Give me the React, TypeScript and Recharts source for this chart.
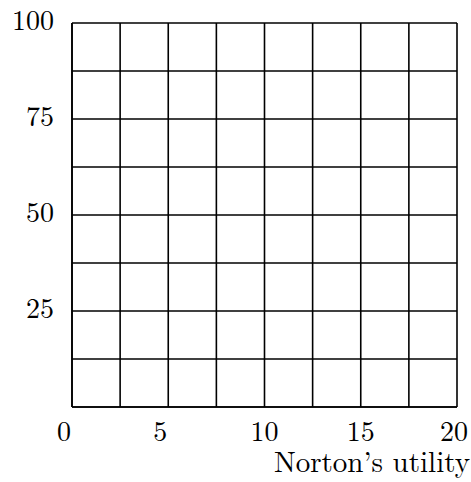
import React from 'react';
import { ScatterChart, Scatter, XAxis, YAxis, CartesianGrid } from 'recharts';

const xTicks = [0, 2.5, 5, 7.5, 10, 12.5, 15, 17.5, 20];
const xLabels = [0, 5, 10, 15, 20];
const yTicks = [0, 12.5, 25, 37.5, 50, 62.5, 75, 87.5, 100];
const yLabels = [25, 50, 75, 100];
// the reference chart is an empty grid: one anchor point at the origin, drawn invisibly
const anchor = [{ x: 0, y: 0 }];

const FONT = "'Latin Modern Roman', 'CMU Serif', 'Liberation Serif', serif";
const FS = 28;

const XTick = (props: any) => {
  const { x, y, payload } = props;
  const v = payload.value;
  if (!xLabels.includes(v)) return null;
  const dx = v < 10 ? -8 : v === 20 ? -3 : 0;
  return (
    <text x={x + dx} y={y + 26} textAnchor="middle" fontFamily={FONT} fontSize={FS} fill="#000">
      {v}
    </text>
  );
};

const YTick = (props: any) => {
  const { x, y, payload } = props;
  const v = payload.value;
  if (!yLabels.includes(v)) return null;
  return (
    <text x={x - 10} y={y + 7} textAnchor="end" fontFamily={FONT} fontSize={FS} fill="#000">
      {v}
    </text>
  );
};

const XLabel = (props: any) => {
  const { viewBox } = props;
  const right = viewBox.x + viewBox.width;
  return (
    <text x={right + 13} y={viewBox.y + 65} textAnchor="end" fontFamily={FONT} fontSize={29} fill="#000">
      Norton’s utility
    </text>
  );
};

export default function App() {
  return (
    <div style={{ position: 'absolute', left: 0, top: 0, width: 471, height: 482, background: '#fff' }}>
      <ScatterChart width={471} height={482} margin={{ top: 23, right: 14, bottom: 0, left: 0 }}>
        <CartesianGrid stroke="#000" strokeWidth={1.6} />
        <XAxis
          type="number"
          dataKey="x"
          domain={[0, 20]}
          ticks={xTicks}
          interval={0}
          tickLine={false}
          axisLine={{ stroke: '#000', strokeWidth: 1.6 }}
          tick={<XTick />}
          height={75}
          allowDataOverflow
          label={<XLabel />}
        />
        <YAxis
          type="number"
          dataKey="y"
          domain={[0, 100]}
          ticks={yTicks}
          interval={0}
          tickLine={false}
          axisLine={{ stroke: '#000', strokeWidth: 1.6 }}
          tick={<YTick />}
          width={72}
          allowDataOverflow
        />
        <Scatter data={anchor} fill="none" shape={() => <g />} isAnimationActive={false} />
      </ScatterChart>
    </div>
  );
}
